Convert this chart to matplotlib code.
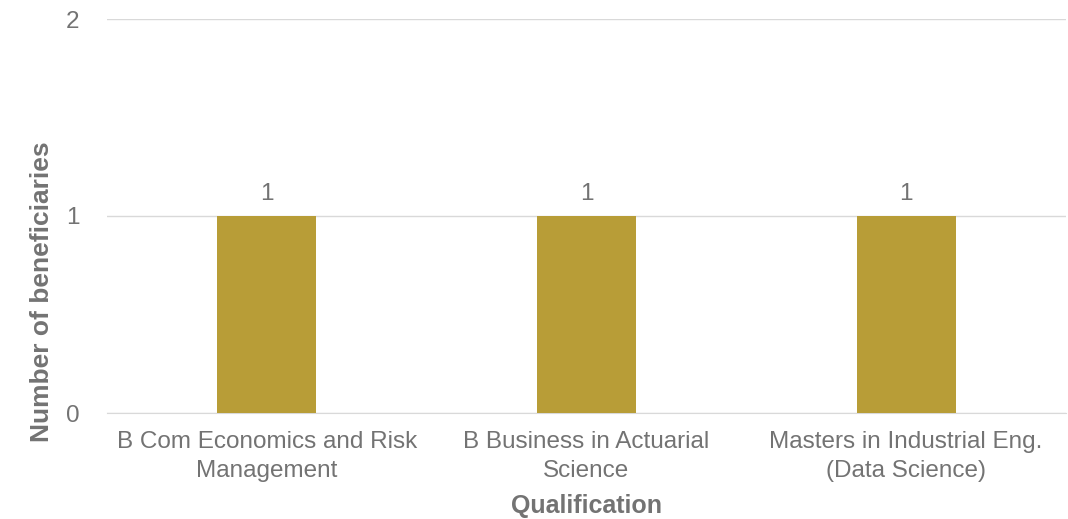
import matplotlib.pyplot as plt

# Data
qualifications = ['B Com Economics and Risk\nManagement',
                  'B Business in Actuarial\nScience',
                  'Masters in Industrial Eng.\n(Data Science)']
beneficiaries = [1, 1, 1]

plt.rcParams['font.family'] = ['Liberation Sans', 'DejaVu Sans']
text_color = '#737373'

fig = plt.figure(figsize=(10.68, 5.19), dpi=100)
ax = fig.add_axes([107 / 1068, 1 - 413 / 519, 959 / 1068, 394 / 519])

x = range(len(qualifications))
bars = ax.bar(x, beneficiaries, width=0.31, color='#B89D37', zorder=3)

ax.set_xlim(-0.5, len(qualifications) - 0.5)
ax.set_ylim(0, 2)
ax.set_yticks([0, 1, 2])
ax.set_xticks(list(x))
ax.set_xticklabels(qualifications, fontsize=17.5, color=text_color,
                   linespacing=1.4)
ax.tick_params(axis='y', labelsize=17.5, labelcolor=text_color, length=0, pad=20)
ax.tick_params(axis='x', length=0, pad=13)

# Horizontal gridlines only
ax.grid(axis='y', color='#D9D9D9', linewidth=1, zorder=0)
for side in ['top', 'right', 'left']:
    ax.spines[side].set_visible(False)
ax.spines['bottom'].set_color('#D9D9D9')

ax.set_ylabel('Number of beneficiaries', fontsize=19, fontweight='bold',
              color=text_color)
ax.yaxis.set_label_coords(-0.055, 0.307)
ax.set_xlabel('Qualification', fontsize=18, fontweight='bold',
              color=text_color, labelpad=9)

# Value labels above bars
for bar, val in zip(bars, beneficiaries):
    ax.annotate(f'{val}',
                xy=(bar.get_x() + bar.get_width() / 2, bar.get_height()),
                xytext=(0, 8), textcoords='offset points',
                ha='center', va='bottom', fontsize=17.5, color=text_color)

fig.savefig('out.png', dpi=100)
